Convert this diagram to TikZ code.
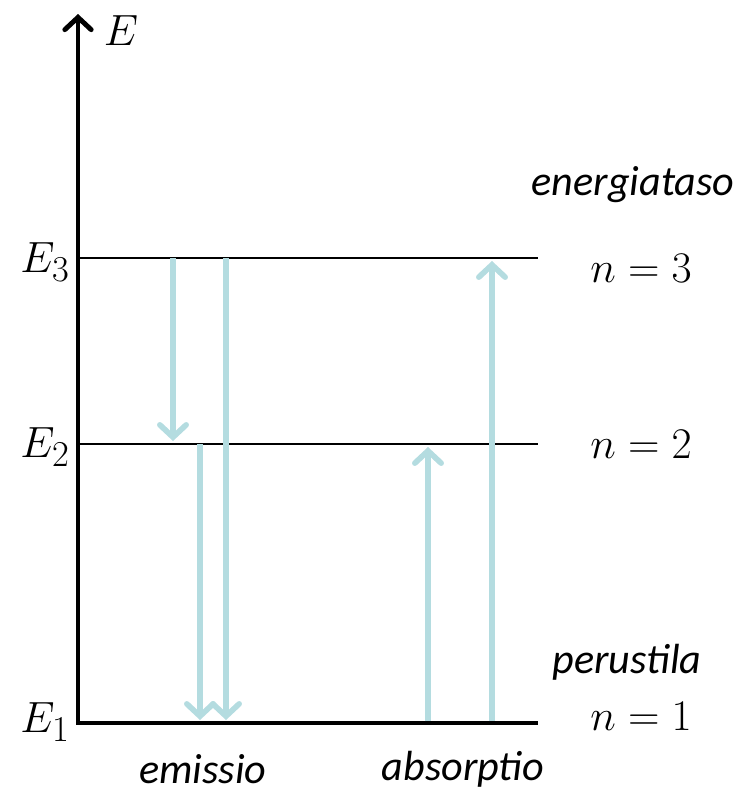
\documentclass[tikz,border=0pt]{standalone}
\usepackage{fontspec}
\setmainfont{Carlito}
\usetikzlibrary{arrows.meta}
\definecolor{photon}{HTML}{B4DCE0}
\begin{document}
\begin{tikzpicture}
  [x=0.02cm,y=-0.02cm,every node/.style={inner sep=0pt,font=\fontsize{24}{28}\selectfont},
   level/.style={line width=1.3pt},
   jump/.style={photon,line width=3.2pt,-{Straight Barb[length=7pt,width=15pt,line cap=round]}}]
\useasboundingbox (0,0) rectangle (751,795);
  % akseli ja perustila
  \coordinate (top) at (78,14);
  \coordinate (orig) at (78,723);
  \coordinate (g1) at (538,723);
  \draw[line width=2.8pt,{Straight Barb[length=7pt,width=15pt,line cap=round]}-] (top) -- (orig) -- (g1);

  % viritetyt tasot
  \coordinate (l3) at (80,258);  \coordinate (r3) at (538,258);
  \coordinate (l2) at (80,444);  \coordinate (r2) at (538,444);
  \draw[level] (l3) -- (r3);
  \draw[level] (l2) -- (r2);

  % siirtymien päätepisteet
  \coordinate (a3) at (173,258); \coordinate (a2) at (173,441);
  \coordinate (b3) at (226,258); \coordinate (b1) at (226,720);
  \coordinate (c2) at (200,444); \coordinate (c1) at (200,720);
  \coordinate (d1) at (428,721); \coordinate (d2) at (428,447);
  \coordinate (e1) at (492,721); \coordinate (e3) at (492,261);

  \foreach \from/\to in {a3/a2, b3/b1, c2/c1, d1/d2, e1/e3}
    \draw[jump] (\from) -- (\to);

  % tekstit
  \node (axis) at (121,31) {\fontsize{29}{33}\selectfont$E$};
  \node (en3) at (45,262) {\fontsize{29}{33}\selectfont$E_3$};
  \node (en2) at (45,447) {\fontsize{29}{33}\selectfont$E_2$};
  \node (en1) at (45,722) {\fontsize{29}{33}\selectfont$E_1$};
  \node (n3) at (641,268) {\fontsize{26}{30}\selectfont$n=3$};
  \node (n2) at (641,444) {\fontsize{26}{30}\selectfont$n=2$};
  \node (n1) at (641,716) {\fontsize{26}{30}\selectfont$n=1$};
  \node (taso) at (633,185) {\itshape energiataso};
  \node (perus) at (627,662) {\itshape perustila};
  \node (emis) at (203,769) {\itshape emissio};
  \node (abs) at (463,769) {\itshape absorptio};
\end{tikzpicture}
\end{document}
